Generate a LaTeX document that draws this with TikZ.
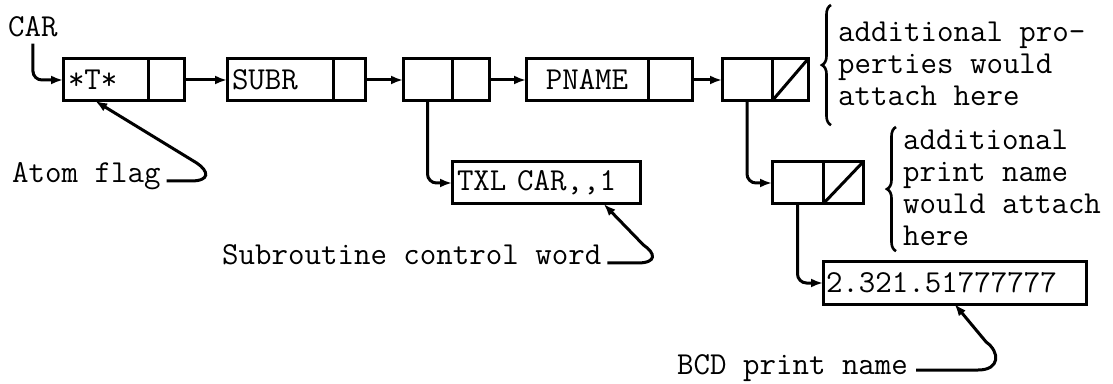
\documentclass[tikz,border=0pt]{standalone}
\usetikzlibrary{arrows.meta,decorations.pathreplacing}
\begin{document}
\begin{tikzpicture}[
  x=1pt, y=1pt,
  every node/.style={font=\fontsize{32}{32}\selectfont\ttfamily, inner sep=2pt},
  cell/.style={draw, line width=3pt, minimum height=42pt, inner sep=0pt, outer sep=0pt, anchor=west},
  word/.style={cell, inner xsep=5pt, align=left},
  nil/.style={cell, path picture={\draw[line width=3pt] (path picture bounding box.south west) -- (path picture bounding box.north east);}},
  link/.style={->, line width=3pt, rounded corners=9pt},
  hook/.style={link, sharp corners},
  brace/.style={decorate, decoration={brace, amplitude=9pt}, line width=2.6pt},
  >={Latex[length=12pt,width=9pt]}
]
\useasboundingbox (0,0) rectangle (1113,383);

% property list of the atom
\node[word, text width=75pt]   (t1)  at (63,303)  {*T*};
\node[cell, minimum width=36pt] (t1p) at (t1.east) {};
\node[word, text width=96pt]   (t2)  at (227,303) {SUBR};
\node[cell, minimum width=32pt] (t2p) at (t2.east) {};
\node[cell, minimum width=49pt] (t3)  at (403,303) {};
\node[cell, minimum width=37pt] (t3p) at (t3.east) {};
\node[cell, minimum width=122pt] (t4) at (526,303) {PNAME};
\node[cell, minimum width=44pt] (t4p) at (t4.east) {};
\node[cell, minimum width=50pt] (t5)  at (722,303) {};
\node[nil, minimum width=36pt]  (t5p) at (t5.east) {};

% lower words
\node[word, text width=178pt]  (txl) at (452,200) {TXL CAR,,1};
\node[cell, minimum width=51pt] (t6)  at (772,200) {};
\node[nil, minimum width=40pt]  (t6p) at (t6.east) {};
\node[word, text width=257pt, inner xsep=3pt] (bcd) at (823,100) {2.321.51777777};

% labels
\node[anchor=base west] (car)     at (6,346)   {CAR};
\node[anchor=base west] (atomlbl) at (10,200)  {Atom flag};
\node[anchor=base west] (sublbl)  at (220,118) {Subroutine control word};
\node[anchor=base west] (bcdlbl)  at (675,9)   {BCD print name};
\node[anchor=north west, align=left, inner sep=0pt] (props)  at (838,361) {additional pro-\\perties would\\attach here};
\node[anchor=north west, align=left, inner sep=0pt] (pnames) at (903,253) {additional\\print name\\would attach\\here};

% pointers
\draw[link] ([yshift=-4pt]car.south) |- (t1.west);
\draw[link] (t1p.east) -- (t2.west);
\draw[link] (t2p.east) -- (t3.west);
\draw[link] (t3p.east) -- (t4.west);
\draw[link] (t4p.east) -- (t5.west);
\draw[link] (t3.south) |- (txl.west);
\draw[link] (t5.south) |- (t6.west);
\draw[link] (t6.south) |- (bcd.west);

% label arrows
\draw[hook] ([xshift=4pt,yshift=2pt]atomlbl.base east) -- ++(24,0) .. controls +(20,0) and +(12,-8) .. ++(6,18) -- (t1.244);
\draw[hook] ([xshift=4pt,yshift=2pt]sublbl.base east) -- ++(30,0) .. controls +(20,0) and +(12,-8) .. ++(6,18) -- (txl.340);
\draw[hook] ([xshift=6pt,yshift=4pt]bcdlbl.base east) -- ++(62,0) .. controls +(22,0) and +(14,-10) .. ++(8,28) -- (bcd.south);

% braces
\draw[brace] ([xshift=-7pt,yshift=-19pt]props.south west) -- ([xshift=-7pt,yshift=17pt]props.north west);
\draw[brace] ([xshift=-7pt,yshift=-5pt]pnames.south west) -- ([xshift=-7pt,yshift=3pt]pnames.north west);
\end{tikzpicture}
\end{document}
